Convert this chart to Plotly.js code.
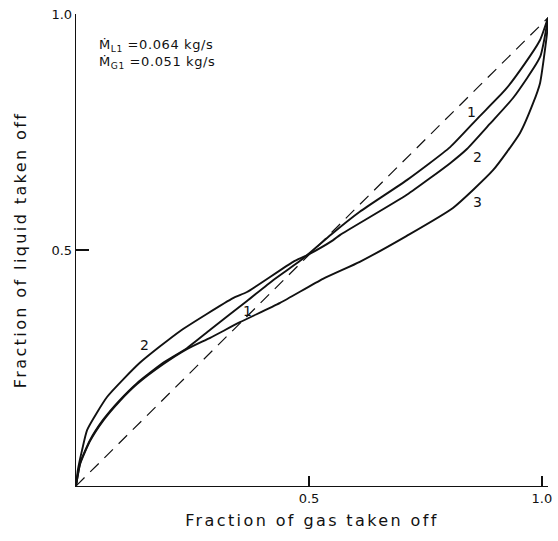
<!DOCTYPE html>
<html>
<head>
<meta charset="utf-8">
<script src="https://cdn.plot.ly/plotly-3.0.1.min.js"></script>
<style>
html,body{margin:0;padding:0;background:#fff;}
.xtitle, .ytitle { letter-spacing: 2.4px; }
.annotation-text { letter-spacing: 0.6px; }
</style>
</head>
<body>
<div id="chart" style="width:558px;height:541px;"></div>
<script>
// Fraction of gas taken off (x) vs fraction of liquid taken off (y)
const curve1X = [0, 0.009, 0.030, 0.058, 0.094, 0.131, 0.187, 0.238, 0.288, 0.367, 0.423, 0.481, 0.496, 0.549, 0.609, 0.710, 0.803, 0.863, 0.921, 0.964, 0.996, 1.013];
const curve1Y = [0, 0.049, 0.097, 0.140, 0.182, 0.218, 0.261, 0.292, 0.331, 0.392, 0.436, 0.477, 0.489, 0.534, 0.581, 0.648, 0.718, 0.780, 0.839, 0.896, 0.945, 0.992];

const curve2X = [0, 0.004, 0.013, 0.024, 0.067, 0.137, 0.223, 0.337, 0.367, 0.466, 0.496, 0.552, 0.567, 0.710, 0.803, 0.839, 0.888, 0.938, 0.996, 1.013];
const curve2Y = [0, 0.034, 0.076, 0.119, 0.189, 0.261, 0.328, 0.398, 0.411, 0.475, 0.489, 0.521, 0.532, 0.617, 0.684, 0.714, 0.767, 0.822, 0.909, 0.992];

const curve3X = [0, 0.009, 0.030, 0.058, 0.094, 0.131, 0.187, 0.238, 0.288, 0.352, 0.438, 0.530, 0.609, 0.710, 0.809, 0.895, 0.953, 0.981, 0.996, 1.011, 1.013];
const curve3Y = [0, 0.047, 0.095, 0.138, 0.180, 0.216, 0.258, 0.290, 0.314, 0.347, 0.388, 0.439, 0.475, 0.530, 0.589, 0.669, 0.748, 0.811, 0.854, 0.960, 0.992];

const diagonalX = [0, 1.013];
const diagonalY = [0, 0.992];

const tickVals = [0.5, 1.0];
const tickText = ["0.5", "1.0"];

const curveLabels = ["1", "2", "3", "1", "2"];
const curveLabelX = [0.850, 0.863, 0.863, 0.369, 0.148];
const curveLabelY = [0.792, 0.697, 0.602, 0.370, 0.299];

const lineStyle = {color: '#111', width: 1.9, shape: 'spline', smoothing: 0.5};
const traces = [
  {x: diagonalX, y: diagonalY, mode: 'lines', line: {color: '#111', width: 1.2, dash: '12px,8px'}, hoverinfo: 'skip'},
  {x: curve1X, y: curve1Y, mode: 'lines', line: lineStyle, name: '1'},
  {x: curve2X, y: curve2Y, mode: 'lines', line: lineStyle, name: '2'},
  {x: curve3X, y: curve3Y, mode: 'lines', line: lineStyle, name: '3'}
];

const font = {family: 'DejaVu Sans, sans-serif', color: '#111'};
const annotations = curveLabels.map((t, i) => ({
  x: curveLabelX[i], y: curveLabelY[i], xref: 'x', yref: 'y', text: t, showarrow: false,
  font: Object.assign({}, font, {size: 14})
}));
annotations.push({
  x: 0.045, y: 0.934, xref: 'x', yref: 'y', xanchor: 'left', showarrow: false,
  text: 'Ṁ<sub>L1</sub> =0.064 kg/s', font: Object.assign({}, font, {size: 13})
});
annotations.push({
  x: 0.045, y: 0.898, xref: 'x', yref: 'y', xanchor: 'left', showarrow: false,
  text: 'Ṁ<sub>G1</sub> =0.051 kg/s', font: Object.assign({}, font, {size: 13})
});

const layout = {
  width: 558, height: 541,
  margin: {l: 76, r: 10, t: 14, b: 55},
  paper_bgcolor: '#fff', plot_bgcolor: '#fff',
  showlegend: false,
  font: font,
  xaxis: {
    range: [0, 1.013], showgrid: false, zeroline: false, showline: true, linecolor: '#111', linewidth: 1.3,
    ticks: 'inside', ticklen: 10, tickcolor: '#111', tickwidth: 1.3,
    tickvals: tickVals, ticktext: tickText, tickfont: {size: 13},
    title: {text: 'Fraction of gas taken off', font: {size: 16}, standoff: 10}
  },
  yaxis: {
    range: [0, 1], showgrid: false, zeroline: false, showline: true, linecolor: '#111', linewidth: 1.3,
    ticks: 'inside', ticklen: 13, tickcolor: '#111', tickwidth: 1.3,
    tickvals: tickVals, ticktext: tickText, tickfont: {size: 13},
    title: {text: 'Fraction of liquid taken off', font: {size: 16}, standoff: 20}
  },
  annotations: annotations
};

Plotly.newPlot('chart', traces, layout, {staticPlot: true, displayModeBar: false});
</script>
</body>
</html>
